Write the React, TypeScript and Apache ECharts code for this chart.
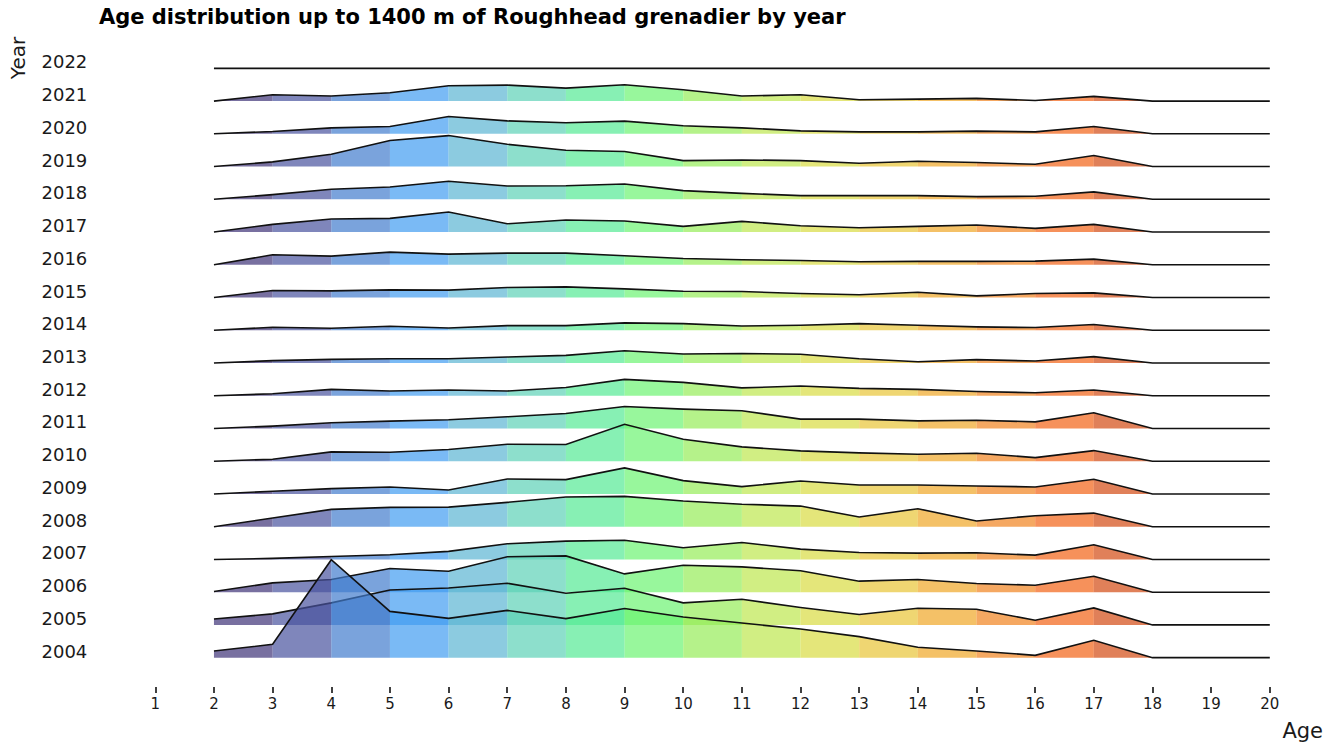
import React, { useEffect, useRef } from "react";
import * as echarts from "echarts";

// Years shown on the vertical axis (bottom to top)
const years = [2004, 2005, 2006, 2007, 2008, 2009, 2010, 2011, 2012, 2013, 2014, 2015, 2016, 2017, 2018, 2019, 2020, 2021, 2022];
// Ages along the horizontal axis for each ridge
const ages = [2, 3, 4, 5, 6, 7, 8, 9, 10, 11, 12, 13, 14, 15, 16, 17, 18, 19, 20];

// Relative frequency (arbitrary density units) per age, one list per year
const v2004 = [7.1, 14.3, 105.0, 49.6, 42.1, 50.7, 41.8, 52.7, 43.6, 37.1, 30.7, 22.5, 11.1, 7.1, 2.5, 18.6, 0, 0, 0];
const v2005 = [6.4, 11.8, 23.6, 37.5, 39.6, 44.6, 33.9, 39.3, 23.6, 27.5, 18.6, 11.1, 17.9, 16.8, 5.0, 18.2, 0, 0, 0];
const v2006 = [0.7, 10.0, 13.6, 25.4, 22.5, 37.9, 38.9, 19.6, 28.9, 27.1, 22.9, 11.8, 13.6, 9.3, 7.5, 17.1, 0, 0, 0];
const v2007 = [0, 1.1, 3.2, 5.0, 8.6, 16.8, 19.6, 20.5, 12.5, 18.2, 11.1, 7.5, 6.8, 7.1, 4.6, 15.7, 0, 0, 0];
const v2008 = [0, 9.3, 18.6, 20.7, 21.0, 26.1, 31.8, 32.5, 27.5, 24.1, 22.1, 10.4, 19.3, 6.1, 11.8, 14.6, 0, 0, 0];
const v2009 = [0, 2.9, 5.7, 7.5, 4.3, 16.1, 15.4, 27.9, 14.3, 7.9, 13.9, 9.6, 9.6, 8.6, 7.5, 15.7, 0, 0, 0];
const v2010 = [0, 2.1, 10.0, 9.6, 12.5, 18.2, 17.9, 39.6, 23.6, 15.4, 11.1, 8.9, 7.5, 8.6, 3.9, 11.4, 0, 0, 0];
const v2011 = [0, 2.5, 6.1, 7.9, 9.3, 12.5, 16.1, 23.6, 20.7, 19.0, 10.0, 10.0, 8.2, 8.9, 7.1, 16.8, 0, 0, 0];
const v2012 = [0, 2.1, 6.8, 5.0, 6.1, 5.0, 8.9, 17.5, 14.3, 8.4, 10.4, 7.9, 6.8, 4.6, 3.2, 6.1, 0, 0, 0];
const v2013 = [0, 2.5, 3.9, 4.6, 4.6, 6.4, 8.2, 13.2, 9.6, 10.2, 9.3, 4.6, 1.4, 3.6, 2.1, 6.8, 0, 0, 0];
const v2014 = [0, 3.2, 2.1, 4.3, 2.5, 5.0, 5.0, 7.9, 7.1, 4.5, 5.4, 7.1, 5.4, 3.6, 2.9, 6.1, 0, 0, 0];
const v2015 = [0, 7.5, 7.1, 8.2, 7.9, 10.7, 11.4, 9.3, 6.8, 6.4, 4.3, 2.9, 5.7, 1.8, 4.3, 5.0, 0, 0, 0];
const v2016 = [0, 10.7, 9.3, 13.6, 11.4, 12.5, 12.5, 9.6, 6.8, 5.4, 4.6, 3.2, 3.6, 3.6, 3.9, 6.1, 0, 0, 0];
const v2017 = [0, 8.2, 13.9, 14.6, 21.4, 8.9, 12.9, 11.8, 6.1, 11.4, 6.8, 4.6, 6.1, 7.5, 3.9, 8.2, 0, 0, 0];
const v2018 = [0, 5.0, 10.7, 13.2, 19.3, 14.3, 14.6, 16.4, 9.3, 6.4, 3.9, 3.9, 3.9, 2.9, 3.2, 7.9, 0, 0, 0];
const v2019 = [0, 5.0, 13.2, 27.9, 33.2, 23.9, 17.5, 16.1, 6.4, 7.1, 6.4, 3.6, 5.7, 4.3, 2.5, 11.8, 0, 0, 0];
const v2020 = [0, 2.5, 6.4, 7.9, 18.6, 13.9, 11.8, 13.6, 8.6, 6.4, 3.2, 2.1, 2.1, 2.9, 2.1, 7.9, 0, 0, 0];
const v2021 = [0, 6.8, 5.4, 8.9, 16.4, 17.1, 13.9, 17.5, 12.1, 5.4, 6.8, 1.4, 2.1, 2.9, 0.7, 5.0, 0, 0, 0];
const v2022 = [0, 0, 0, 0, 0, 0, 0, 0, 0, 0, 0, 0, 0, 0, 0, 0, 0, 0, 0];

const ridgeValues = [v2004, v2005, v2006, v2007, v2008, v2009, v2010, v2011, v2012, v2013, v2014, v2015, v2016, v2017, v2018, v2019, v2020, v2021, v2022];

// Fill colour of each age band (2-3, 3-4, ..., 17-18)
const bandColors = [
  "rgba(62,51,119,0.7)",
  "rgba(72,82,158,0.7)",
  "rgba(66,124,205,0.7)",
  "rgba(66,156,241,0.7)",
  "rgba(91,181,211,0.7)",
  "rgba(92,209,182,0.7)",
  "rgba(84,234,148,0.7)",
  "rgba(108,244,114,0.7)",
  "rgba(149,236,89,0.7)",
  "rgba(189,231,78,0.7)",
  "rgba(216,219,65,0.7)",
  "rgba(232,197,54,0.7)",
  "rgba(239,166,39,0.7)",
  "rgba(241,131,32,0.7)",
  "rgba(242,98,22,0.7)",
  "rgba(211,74,19,0.7)",
];

const TITLE = "Age distribution up to 1400 m of Roughhead grenadier by year";
const FONT = "'DejaVu Sans', 'Liberation Sans', Arial, sans-serif";
// Height of one density unit expressed in year-row units
const HEIGHT_SCALE = 0.0285;

export default function App() {
  const ref = useRef<HTMLDivElement>(null);

  useEffect(() => {
    if (!ref.current) return;
    const chart = echarts.init(ref.current, null, { renderer: "svg" });

    // draw top rows first so lower ridges overlap upper ones
    const order = years.map((_, i) => i).reverse();
    const data = order.map((i) => [ages[0], years[i], i]);

    const renderItem = (params: any, api: any) => {
      const year = api.value(1);
      const idx = api.value(2);
      const vals = ridgeValues[idx];
      const children: any[] = [];
      for (let k = 0; k < bandColors.length; k++) {
        const a0 = ages[k];
        const a1 = ages[k + 1];
        if (vals[k] === 0 && vals[k + 1] === 0) continue;
        const pts = [
          api.coord([a0, year]),
          api.coord([a0, year + vals[k] * HEIGHT_SCALE]),
          api.coord([a1, year + vals[k + 1] * HEIGHT_SCALE]),
          api.coord([a1, year]),
        ];
        children.push({
          type: "polygon",
          shape: { points: pts },
          style: { fill: bandColors[k], stroke: null },
        });
      }
      const linePts = ages.map((a, k) => api.coord([a, year + vals[k] * HEIGHT_SCALE]));
      children.push({
        type: "polyline",
        shape: { points: linePts },
        style: { fill: null, stroke: "#111", lineWidth: 1.6 },
      });
      return { type: "group", children };
    };

    chart.setOption({
      animation: false,
      backgroundColor: "#ffffff",
      title: {
        text: TITLE,
        left: 99,
        top: 6,
        padding: 0,
        textStyle: { fontFamily: FONT, fontSize: 21, fontWeight: "bold", color: "#000" },
      },
      grid: { left: 155.3, right: 73.2, top: 35.6, bottom: 51.6 },
      xAxis: {
        type: "value",
        min: 1,
        max: 20,
        interval: 1,
        offset: -3.4,
        axisLine: { show: false },
        axisTick: { show: true, length: 6, lineStyle: { color: "#000", width: 1.5 } },
        axisLabel: { fontFamily: FONT, fontSize: 15, color: "#1a1a1a", margin: 9 },
        splitLine: { show: false },
      },
      yAxis: {
        type: "value",
        min: 2003,
        max: 2023,
        interval: 1,
        axisLine: { show: false },
        axisTick: { show: false },
        splitLine: { show: false },
        axisLabel: {
          fontFamily: FONT,
          fontSize: 18,
          color: "#1a1a1a",
          margin: 68,
          verticalAlign: "bottom",
          lineHeight: 13,
          formatter: (v: number) => (v >= years[0] && v <= years[years.length - 1] ? String(v) : ""),
        },
      },
      graphic: [
        {
          type: "text",
          x: 18,
          y: 58,
          rotation: Math.PI / 2,
          style: { text: "Year", fontFamily: FONT, fontSize: 20, fill: "#1a1a1a", align: "center", verticalAlign: "middle" },
        },
        {
          type: "text",
          x: 1323,
          y: 731,
          style: { text: "Age", fontFamily: FONT, fontSize: 21, fill: "#1a1a1a", align: "right", verticalAlign: "middle" },
        },
      ],
      series: [
        {
          type: "custom",
          coordinateSystem: "cartesian2d",
          encode: { x: 0, y: 1 },
          clip: false,
          data,
          renderItem,
        },
      ],
    });

    return () => chart.dispose();
  }, []);

  return (
    <div
      ref={ref}
      style={{ position: "fixed", left: 0, top: 0, width: 1343, height: 742, background: "#fff" }}
    />
  );
}
